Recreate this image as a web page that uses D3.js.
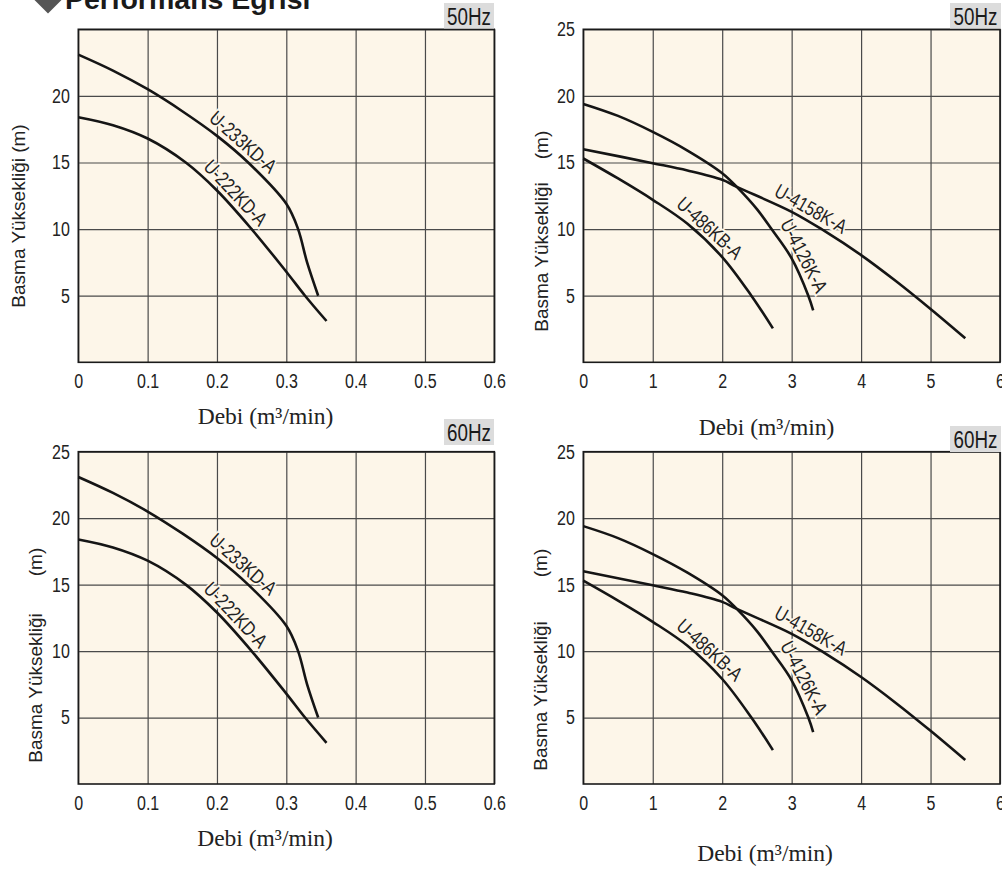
<!DOCTYPE html>
<html>
<head>
<meta charset="utf-8">
<script src="https://cdn.jsdelivr.net/npm/d3@7"></script>
<style>
  html, body { margin: 0; padding: 0; background: #fff; }
  svg { display: block; }
  .tick text { font-family: "Liberation Sans", Arial, sans-serif; font-size: 20px; fill: #222; }
  .tick line { stroke: #4a4a4a; stroke-width: 1.2; }
</style>
</head>
<body>
<svg id="chart" width="1002" height="870"></svg>
<script>
"use strict";

// ---------------------------------------------------------------------------
// Data
// ---------------------------------------------------------------------------

// flow in m3/min, head in m
const u233kdA = [[0, 23.1], [0.05, 21.9], [0.1, 20.5], [0.15, 18.85], [0.2, 17.0], [0.245, 15.0],
  [0.3, 11.9], [0.317, 10.0], [0.33, 7.5], [0.346, 5.0]];
const u222kdA = [[0, 18.4], [0.05, 17.8], [0.1, 16.8], [0.155, 15.0], [0.2, 12.9], [0.25, 10.0],
  [0.3, 6.8], [0.327, 5.0], [0.358, 3.1]];

const u4158kA = [[0, 16.0], [1, 14.95], [1.5, 14.4], [2, 13.7], [2.21, 13.17], [3, 11.3], [3.46, 9.9],
  [4, 8.05], [4.5, 6.1], [5, 4.0], [5.5, 1.8]];
const u4126kA = [[0, 19.4], [0.5, 18.5], [1, 17.3], [1.5, 15.9], [2, 14.2],
  [2.21, 13.17], [2.5, 11.5], [2.71, 10.0], [3, 7.8], [3.24, 5.0], [3.31, 3.9]];
const u486kbA = [[0, 15.3], [0.5, 13.8], [1, 12.2], [1.5, 10.4], [2, 7.9], [2.42, 5.0], [2.73, 2.55]];

const smallFlowTicks = [0, 0.1, 0.2, 0.3, 0.4, 0.5, 0.6];
const bigFlowTicks = [0, 1, 2, 3, 4, 5, 6];
const headTicks = [5, 10, 15, 20, 25];

const smallSeries = [
  { name: "U-233KD-A", points: u233kdA, labelAt: 0.226 },
  { name: "U-222KD-A", points: u222kdA, labelAt: 0.214 },
];
const bigSeries = [
  { name: "U-4158K-A", points: u4158kA, labelAt: 3.19 },
  { name: "U-4126K-A", points: u4126kA, labelAt: 3.02 },
  { name: "U-486KB-A", points: u486kbA, labelAt: 1.7 },
];

// ---------------------------------------------------------------------------
// Layout
// ---------------------------------------------------------------------------

const BG = "#fdf6e9";
const SANS = '"Liberation Sans", Arial, sans-serif';
const SERIF = '"Liberation Serif", "Times New Roman", serif';
const NARROW = 0.8; // horizontal squeeze to imitate a condensed face

const panels = [
  { left: 78.3, right: 494.3, top: 29.3, bottom: 362.3, flowMax: 0.6, flowTicks: smallFlowTicks,
    series: smallSeries, hz: "50Hz", hzBox: [444, 3, 50, 25.5], debi: [265.5, 424],
    yTitles: [["Basma Yüksekliği (m)", 18, 216]], skipTop: true },
  { left: 583.3, right: 1000, top: 29.3, bottom: 362.3, flowMax: 6, flowTicks: bigFlowTicks,
    series: bigSeries, hz: "50Hz", hzBox: [950, 3, 51, 25.5], debi: [766.5, 435],
    yTitles: [["(m)", 541, 145], ["Basma Yüksekliği", 541, 257]] },
  { left: 78.3, right: 494.3, top: 451.7, bottom: 784, flowMax: 0.6, flowTicks: smallFlowTicks,
    series: smallSeries, hz: "60Hz", hzBox: [444, 419, 50, 26], debi: [265, 846],
    yTitles: [["(m)", 35, 562], ["Basma Yüksekliği", 35, 688]] },
  { left: 583.3, right: 1000, top: 451.7, bottom: 784, flowMax: 6, flowTicks: bigFlowTicks,
    series: bigSeries, hz: "60Hz", hzBox: [950, 426, 51, 26], debi: [765, 861],
    yTitles: [["(m)", 540, 563], ["Basma Yüksekliği", 540, 696]] },
];

const svg = d3.select("#chart");

// ---------------------------------------------------------------------------
// Title
// ---------------------------------------------------------------------------

svg.append("path")
  .attr("d", "M48,-15.5 L62.5,-1 L48,13.5 L33.5,-1 Z")
  .attr("fill", "#555");
svg.append("text")
  .attr("x", 65).attr("y", 9)
  .attr("font-family", SANS).attr("font-weight", "bold").attr("font-size", 28.5)
  .attr("fill", "#1a1a1a")
  .text("Performans Eğrisi");

// ---------------------------------------------------------------------------
// Helpers
// ---------------------------------------------------------------------------

function headAt(points, q) {
  for (let i = 1; i < points.length; i++) {
    const [q0, h0] = points[i - 1];
    const [q1, h1] = points[i];
    if (q <= q1) return h0 + (h1 - h0) * (q - q0) / (q1 - q0);
  }
  return points[points.length - 1][1];
}

function drawPanel(p) {
  const x = d3.scaleLinear().domain([0, p.flowMax]).range([p.left, p.right]);
  const y = d3.scaleLinear().domain([0, 25]).range([p.bottom, p.top]);
  const h = p.bottom - p.top;
  const w = p.right - p.left;

  const g = svg.append("g");

  g.append("rect")
    .attr("x", p.left).attr("y", p.top).attr("width", w).attr("height", h)
    .attr("fill", BG);

  // x axis + vertical grid
  const xAxis = g.append("g")
    .attr("transform", `translate(0,${p.bottom})`)
    .call(d3.axisBottom(x).tickValues(p.flowTicks).tickSize(-h).tickPadding(11.5)
      .tickFormat(d3.format("")));
  xAxis.select(".domain").remove();
  xAxis.selectAll("text")
    .attr("font-family", null).attr("font-size", null)
    .attr("transform", `scale(${NARROW},1)`);

  // y axis + horizontal grid
  const yAxis = g.append("g")
    .attr("transform", `translate(${p.left},0)`)
    .call(d3.axisLeft(y).tickValues(headTicks).tickSize(-w).tickPadding(8.5));
  yAxis.select(".domain").remove();
  yAxis.selectAll("text")
    .attr("font-family", null).attr("font-size", null)
    .attr("x", -8.5 / NARROW)
    .attr("transform", `scale(${NARROW},1)`);
  if (p.skipTop) yAxis.selectAll(".tick").filter((d) => d === 25).select("text").remove();

  // frame
  g.append("rect")
    .attr("x", p.left).attr("y", p.top).attr("width", w).attr("height", h)
    .attr("fill", "none").attr("stroke", "#1a1a1a").attr("stroke-width", 1.6);

  // curves
  const line = d3.line()
    .x((d) => x(d[0]))
    .y((d) => y(d[1]))
    .curve(d3.curveCatmullRom.alpha(0.5));

  p.series.forEach((s) => {
    g.append("path")
      .attr("d", line(s.points))
      .attr("fill", "none")
      .attr("stroke", "#151515")
      .attr("stroke-width", 2.6)
      .attr("stroke-linecap", "butt");
  });

  // curve labels, rotated along the curve
  const span = p.flowMax * 0.05;
  p.series.forEach((s) => {
    const q = s.labelAt;
    const px = x(q);
    const py = y(headAt(s.points, q));
    const ax = x(q - span), ay = y(headAt(s.points, q - span));
    const bx = x(q + span), by = y(headAt(s.points, q + span));
    const angle = Math.atan2(by - ay, bx - ax) * 180 / Math.PI;
    g.append("text")
      .attr("transform", `translate(${px},${py}) rotate(${angle}) scale(${NARROW},1)`)
      .attr("y", -5.5)
      .attr("text-anchor", "middle")
      .attr("font-family", SANS)
      .attr("font-size", 20)
      .attr("fill", "#222")
      .attr("stroke", BG)
      .attr("stroke-width", 4)
      .attr("paint-order", "stroke")
      .text(s.name);
  });

  // frequency badge
  const [bx, by, bw, bh] = p.hzBox;
  svg.append("rect")
    .attr("x", bx).attr("y", by).attr("width", bw).attr("height", bh)
    .attr("fill", "#dcdcdc");
  svg.append("text")
    .attr("transform", `translate(${bx + bw / 2},${by + bh - 4}) scale(${NARROW},1)`)
    .attr("text-anchor", "middle")
    .attr("font-family", SANS).attr("font-size", 23.5)
    .attr("fill", "#1a1a1a")
    .text(p.hz);

  // axis titles
  svg.append("text")
    .attr("x", p.debi[0]).attr("y", p.debi[1])
    .attr("text-anchor", "middle")
    .attr("font-family", SERIF).attr("font-size", 23.5)
    .attr("fill", "#222")
    .text("Debi (m³/min)");

  p.yTitles.forEach(([txt, tx, ty]) => {
    svg.append("text")
      .attr("transform", `translate(${tx},${ty}) rotate(-90)`)
      .attr("text-anchor", "middle")
      .attr("dominant-baseline", "central")
      .attr("font-family", SANS).attr("font-size", 19)
      .attr("fill", "#222")
      .text(txt);
  });
}

panels.forEach(drawPanel);
</script>
</body>
</html>
